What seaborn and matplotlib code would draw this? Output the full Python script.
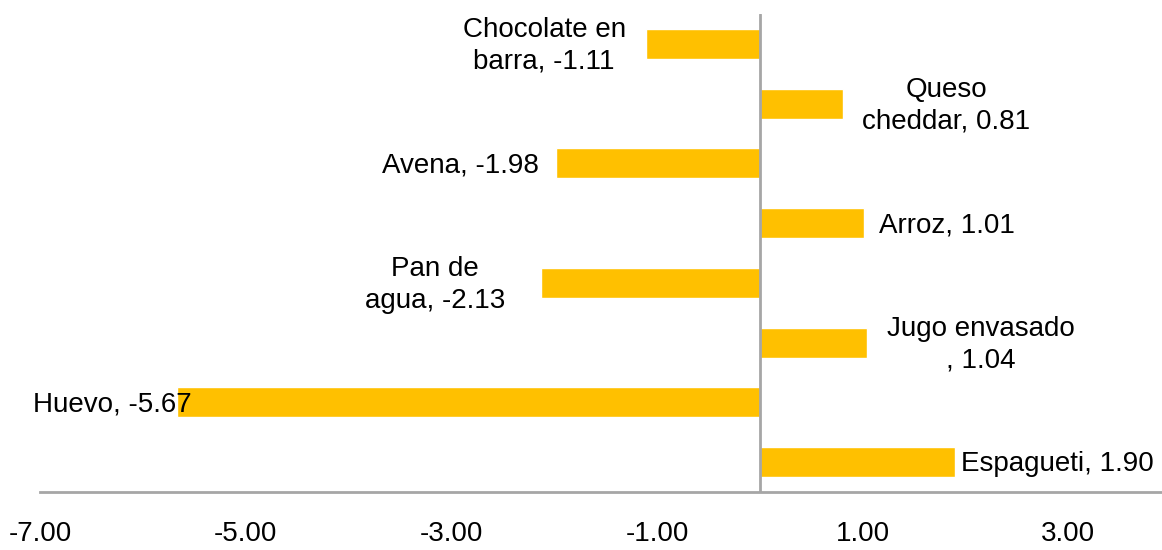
import matplotlib
matplotlib.use("Agg")
import matplotlib.pyplot as plt
import seaborn as sns
import pandas as pd

# データ（上から順）
productos = ["Chocolate en barra", "Queso cheddar", "Avena", "Arroz",
             "Pan de agua", "Jugo envasado", "Huevo", "Espagueti"]
variacion = [-1.11, 0.81, -1.98, 1.01, -2.13, 1.04, -5.67, 1.90]
etiquetas = ["Chocolate en\nbarra, -1.11", "Queso\ncheddar, 0.81", "Avena, -1.98",
             "Arroz, 1.01", "Pan de\nagua, -2.13", "Jugo envasado\n, 1.04",
             "Huevo, -5.67", "Espagueti, 1.90"]
xticks = [-7, -5, -3, -1, 1, 3]

df = pd.DataFrame({"producto": productos, "variacion": variacion})

sns.set_theme(style="white")
plt.rcParams["font.family"] = ["Liberation Sans", "DejaVu Sans"]

fig = plt.figure(figsize=(11.62, 5.5), dpi=100)
ax = fig.add_axes([40 / 1162, 1 - 492 / 550, 1 - 40 / 1162, (492 - 14) / 550])

sns.barplot(data=df, x="variacion", y="producto", order=productos,
            color="#FFC000", saturation=1, width=0.5, orient="h", ax=ax)

ax.set_xlim(-7, 3.91)
ax.set_ylim(7.5, -0.5)
ax.axvline(0, color="#a6a6a6", lw=2, zorder=3)

ax.set_xticks(xticks)
ax.set_xticklabels([f"{t:.2f}" for t in xticks], fontsize=20, color="black")
ax.tick_params(axis="x", length=0, pad=21)
ax.set_yticks([])
ax.set_xlabel("")
ax.set_ylabel("")
for s in ["left", "right", "top"]:
    ax.spines[s].set_visible(False)
ax.spines["bottom"].set_color("#a6a6a6")
ax.spines["bottom"].set_linewidth(2)

# etiquetas: (offset px, alineación)
pos = [(-20, "right"), (19, "left"), (-17, "right"), (15, "left"),
       (-36, "right"), (20, "left"), (15, "right"), (6, "left")]
for i, (v, lab) in enumerate(zip(variacion, etiquetas)):
    dx, ha = pos[i]
    ax.annotate(lab, xy=(v, i), xytext=(dx, -2), textcoords="offset pixels",
                ha=ha, va="center", multialignment="center",
                fontsize=20, linespacing=1.3, color="black",
                annotation_clip=False, zorder=4)

fig.savefig("out.png", dpi=100)
